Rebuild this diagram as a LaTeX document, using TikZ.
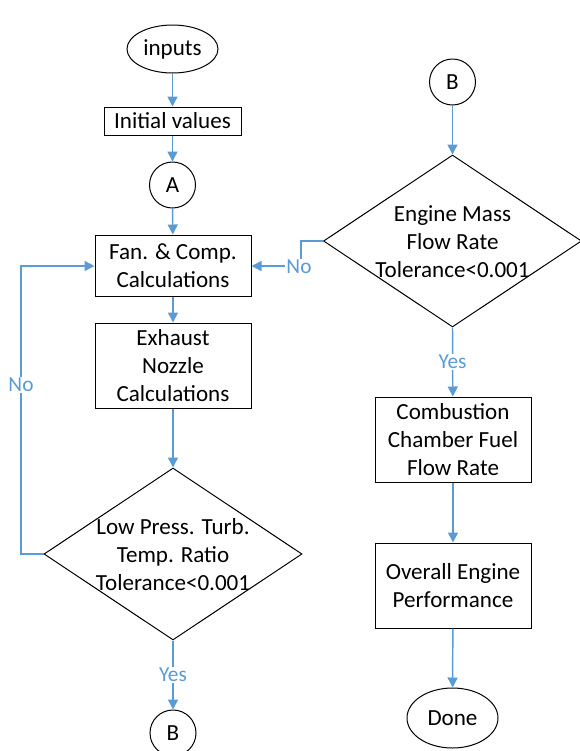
\documentclass[tikz,border=0pt]{standalone}
\usepackage{fontspec}
\setmainfont{Carlito}
\usetikzlibrary{shapes.geometric,arrows.meta}
\definecolor{lnblue}{HTML}{5B9BD5}
\newcommand\mainfs{\fontsize{17.3pt}{21pt}\selectfont}
\newcommand\lblfs{\fontsize{16pt}{19pt}\selectfont}
\begin{document}
\begin{tikzpicture}[x=0.75pt,y=-0.75pt,
  box/.style={draw=black,line width=0.75pt,rectangle,inner sep=0pt,minimum width=156*0.75pt,align=center,font=\mainfs},
  term/.style={draw=black,line width=0.75pt,ellipse,inner sep=0pt,minimum width=91*0.75pt,font=\mainfs},
  conn/.style={draw=black,line width=0.75pt,circle,inner sep=0pt,minimum size=46*0.75pt,font=\mainfs},
  decide/.style={draw=black,line width=0.75pt,diamond,inner sep=0pt,minimum width=258*0.75pt,minimum height=172*0.75pt},
  dtext/.style={align=center,font=\mainfs,inner sep=0pt},
  flow/.style={draw=lnblue,line width=1.1pt,-{Triangle[length=7.5pt,width=7.5pt]}},
  lbl/.style={fill=white,text=lnblue,font=\lblfs,inner sep=1pt}
]
\clip (0,0) rectangle (580,751);
\useasboundingbox (0,0) rectangle (580,751);

% left column
\node[term,minimum height=48*0.75pt] (inputs) at (172.5,49) {inputs};
\node[box,minimum width=137*0.75pt,minimum height=28*0.75pt] (init) at (172.5,121) {Initial values};
\node[conn] (A) at (172.5,185) {A};
\node[box,minimum height=61*0.75pt] (fan) at (173,265.5) {Fan. \& Comp.\\Calculations};
\node[box,minimum height=85*0.75pt] (exh) at (173,365.5) {Exhaust\\Nozzle\\Calculations};
\node[decide] (d1) at (173,554) {};
\node[dtext] (d1t) at (173,555) {Low Press. Turb.\\Temp. Ratio\\Tolerance<0.001};
\node[conn] (B1) at (173,733) {B};

% right column
\node[conn] (B2) at (452.5,82) {B};
\node[decide] (d2) at (452.5,241) {};
\node[dtext] (d2t) at (452.5,242) {Engine Mass\\Flow Rate\\Tolerance<0.001};
\node[box,minimum height=85*0.75pt] (comb) at (453,439.5) {Combustion\\Chamber Fuel\\Flow Rate};
\node[box,minimum height=85*0.75pt] (over) at (453,585.5) {Overall Engine\\Performance};
\node[term,minimum height=60*0.75pt] (done) at (452.5,718) {Done};

\coordinate (l1) at (21,554);
\coordinate (l2) at (21,266);
\coordinate (r1) at (301,241);
\coordinate (r2) at (301,266);

\draw[flow] (inputs) -- (init);
\draw[flow] (init) -- (A);
\draw[flow] (A) -- (fan);
\draw[flow] (fan) -- (exh);
\draw[flow] (exh) -- (d1.north);
\draw[flow] (d1.south) -- node[lbl] (yes1) {Yes} (B1);
\draw[flow] (d1.west) -- (l1) -- (l2) -- (fan.west |- l2);
\node[lbl] (no1) at (21,385) {No};

\draw[flow] (B2) -- (d2.north);
\draw[flow] (d2.south) -- node[lbl] (yes2) {Yes} (comb);
\draw[flow] (d2.west) -- (r1) -- (r2) -- (fan.east |- r2);
\node[lbl] (no2) at (299,267) {No};
\draw[flow] (comb) -- (over);
\draw[flow] (over) -- (done);
\end{tikzpicture}
\end{document}
